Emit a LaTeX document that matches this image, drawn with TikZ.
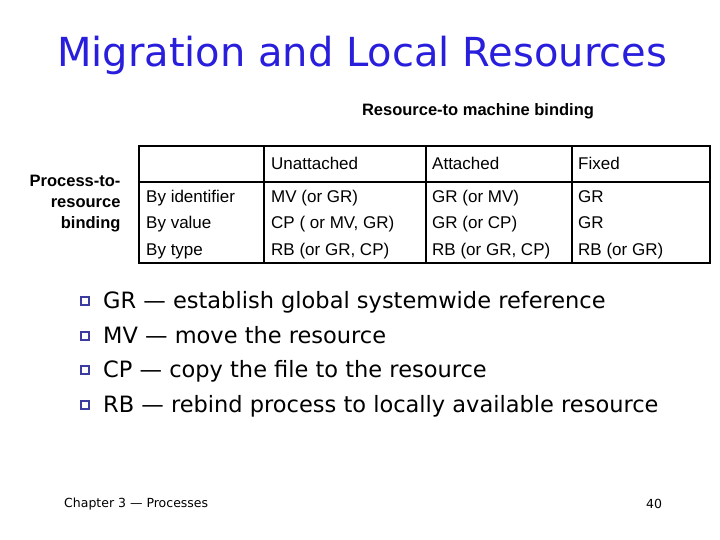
\documentclass[tikz,border=0pt]{standalone}
\usepackage{fontspec}
\setmainfont{Liberation Sans}
\newfontfamily\comic{DejaVu Sans}
\definecolor{tblue}{RGB}{40,30,220}
\definecolor{bblue}{RGB}{60,60,160}
\begin{document}
\begin{tikzpicture}[x=1pt,y=-1pt,
  cell/.style={anchor=base west,font=\fontsize{17}{20}\selectfont,inner sep=0},
  bul/.style={anchor=base west,font=\comic\fontsize{22.5}{26}\selectfont,inner sep=0},
  sq/.style={draw=bblue,fill=white,line width=1.2pt,minimum size=8pt,inner sep=0}]
\useasboundingbox (0,0) rectangle (720,540);
\node[font=\comic\fontsize{40}{46}\selectfont,text=tblue] (title) at (362,55) {Migration and Local Resources};
\node[font=\bfseries\fontsize{16.5}{19}\selectfont] (rm) at (478,111) {Resource-to machine binding};
\node[font=\bfseries\fontsize{16.5}{21}\selectfont,align=right,anchor=east] (pr) at (124,204) {Process-to-\\resource\\binding};
\draw[line width=2pt] (139,146) rectangle (710,263);
\draw[line width=1.5pt] (139,182) -- (710,182);
\foreach \x in {264,426,572} \draw[line width=1.5pt] (\x,146) -- (\x,263);
\node[cell] (h1) at (271,170) {Unattached};
\node[cell] (h2) at (432,170) {Attached};
\node[cell] (h3) at (578,170) {Fixed};
\node[cell] (r1) at (146,203) {By identifier};
\node[cell] (r2) at (146,229) {By value};
\node[cell] (r3) at (146,255) {By type};
\node[cell] (a1) at (271,203) {MV (or GR)};
\node[cell] (a2) at (271,229) {CP ( or MV, GR)};
\node[cell] (a3) at (271,255) {RB (or GR, CP)};
\node[cell] (b1) at (432,203) {GR (or MV)};
\node[cell] (b2) at (432,229) {GR (or CP)};
\node[cell] (b3) at (432,255) {RB (or GR, CP)};
\node[cell] (c1) at (578,203) {GR};
\node[cell] (c2) at (578,229) {GR};
\node[cell] (c3) at (578,255) {RB (or GR)};
\foreach \y/\t [count=\i] in {308/{GR — establish global systemwide reference},343/{MV — move the resource},377/{CP — copy the file to the resource},412/{RB — rebind process to locally available resource}}{
  \node[sq] (s\i) at (85,\y-7) {};
  \node[bul] (t\i) at (103,\y) {\t};
}
\node[anchor=west,font=\comic\fontsize{12.5}{14}\selectfont,inner sep=0] (ft) at (64,504) {Chapter 3 — Processes};
\node[font=\comic\fontsize{12.5}{14}\selectfont] (pg) at (654,504) {40};
\end{tikzpicture}
\end{document}
